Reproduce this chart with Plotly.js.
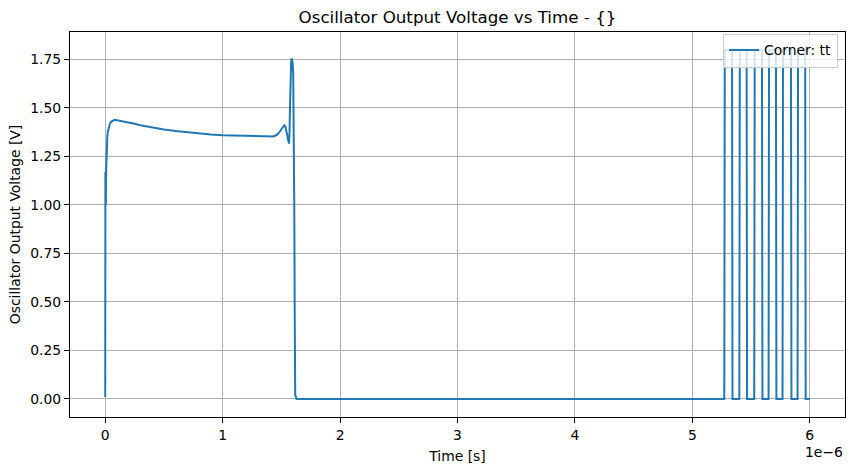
<!DOCTYPE html>
<html>
<head>
<meta charset="utf-8">
<script src="https://cdn.plot.ly/plotly-3.0.1.min.js"></script>
<style>
  html, body { margin: 0; padding: 0; background: #ffffff; }
  #chart { width: 855px; height: 470px; }
</style>
</head>
<body>
<div id="chart"></div>
<script>
// Time in microseconds (axis shows offset 1e-6 s)
const time_us = [
  0.0, 0.0005, 0.001, 0.0015, 0.002, 0.0025, 0.003, 0.0035, 0.004, 0.0045, 0.005,
  0.008, 0.011, 0.014, 0.018, 0.023, 0.03, 0.04, 0.05, 0.062, 0.076, 0.09,
  0.12, 0.15, 0.2, 0.25, 0.3, 0.35, 0.4, 0.45, 0.5, 0.6, 0.7, 0.8, 0.9,
  1.0, 1.1, 1.2, 1.3, 1.4, 1.43, 1.46, 1.48, 1.5, 1.515, 1.525, 1.535,
  1.545, 1.555, 1.565, 1.569, 1.574, 1.579, 1.584, 1.59, 1.596, 1.601,
  1.606, 1.61, 1.614, 1.618, 1.63,
  5.272, 5.276, 5.338, 5.342, 5.400, 5.404, 5.462, 5.466, 5.527, 5.531,
  5.593, 5.597, 5.649, 5.653, 5.712, 5.716, 5.768, 5.772, 5.840, 5.844,
  5.896, 5.900, 5.961, 5.965, 6.0
];
const voltage_v = [
  0.01, 1.17, 0.73, 1.17, 0.74, 1.16, 0.75, 1.15, 0.77, 1.12, 1.00,
  1.18, 1.27, 1.32, 1.355, 1.38, 1.40, 1.418, 1.428, 1.434, 1.437, 1.437,
  1.434, 1.431, 1.425, 1.418, 1.411, 1.405, 1.399, 1.394, 1.389, 1.381, 1.374, 1.368, 1.363,
  1.359, 1.357, 1.355, 1.353, 1.352, 1.353, 1.36, 1.372, 1.39, 1.405, 1.41, 1.402,
  1.38, 1.345, 1.316, 1.36, 1.52, 1.68, 1.745, 1.754, 1.73, 1.68,
  1.40, 0.99, 0.40, 0.02, 0.0,
  0.0, 1.8, 1.8, 0.0, 0.0, 1.8, 1.8, 0.0, 0.0, 1.8,
  1.8, 0.0, 0.0, 1.8, 1.8, 0.0, 0.0, 1.8, 1.8, 0.0,
  0.0, 1.8, 1.8, 0.0, 0.0
];
const xTickVals_us = [0, 1, 2, 3, 4, 5, 6];
const xTickText = ['0', '1', '2', '3', '4', '5', '6'];
const yTickVals = [0, 0.25, 0.5, 0.75, 1.0, 1.25, 1.5, 1.75];
const seriesName = 'Corner: tt';
const titleText = 'Oscillator Output Voltage vs Time - {}';

const SCALE = 1e-6;
const timeSec = time_us.map(t => t * SCALE);

const font = { family: 'DejaVu Sans, sans-serif', color: '#000000' };

const trace = {
  x: timeSec,
  y: voltage_v,
  type: 'scatter',
  mode: 'lines',
  name: seriesName,
  line: { color: '#1f77b4', width: 2 },
  showlegend: true
};

const axisCommon = {
  showline: true, mirror: true, linecolor: '#000000', linewidth: 1,
  ticks: 'outside', ticklen: 5, tickwidth: 1, tickcolor: '#000000',
  showgrid: true, gridcolor: '#b0b0b0', gridwidth: 1,
  zeroline: false,
  tickfont: Object.assign({ size: 13.9 }, font)
};

const layout = {
  width: 855, height: 470,
  margin: { l: 70, r: 10, t: 32, b: 53 },
  paper_bgcolor: '#ffffff', plot_bgcolor: '#ffffff',
  font: font,
  title: {
    text: titleText,
    font: Object.assign({ size: 16.7 }, font),
    x: 0.5, xref: 'paper', xanchor: 'center',
    y: 1 - 17 / 470, yref: 'container', yanchor: 'middle'
  },
  xaxis: Object.assign({}, axisCommon, {
    range: [-0.3 * SCALE, 6.3 * SCALE],
    tickmode: 'array',
    tickvals: xTickVals_us.map(v => v * SCALE),
    ticktext: xTickText,
    title: { text: 'Time [s]', font: Object.assign({ size: 13.9 }, font), standoff: 9 }
  }),
  yaxis: Object.assign({}, axisCommon, {
    range: [-0.0928, 1.891],
    tickmode: 'array',
    tickvals: yTickVals,
    ticktext: yTickVals.map(v => v.toFixed(2)),
    title: { text: 'Oscillator Output Voltage [V]', font: Object.assign({ size: 13.9 }, font), standoff: 6 }
  }),
  legend: {
    x: 0.991, xanchor: 'right', y: 0.996, yanchor: 'top',
    bgcolor: 'rgba(255,255,255,0.8)', bordercolor: '#cccccc', borderwidth: 1,
    font: Object.assign({ size: 13.9 }, font)
  },
  annotations: [{
    text: '1e\u22126', xref: 'paper', yref: 'paper',
    x: 1, y: -0.091, xanchor: 'right', yanchor: 'middle',
    showarrow: false, font: Object.assign({ size: 13.9 }, font)
  }]
};

Plotly.newPlot('chart', [trace], layout, { displayModeBar: false, staticPlot: true });
</script>
</body>
</html>
